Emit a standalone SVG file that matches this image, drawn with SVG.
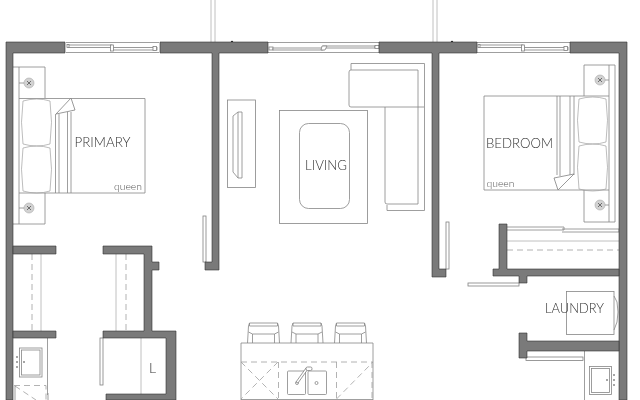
<svg xmlns="http://www.w3.org/2000/svg" width="640" height="400" viewBox="0 0 640 400">
<style>
.w{fill:#7a7a7a;stroke:#333;stroke-width:.6}
.l{fill:none;stroke:#868686;stroke-width:.8}
.p{fill:none;stroke:#a0a0a0;stroke-width:.7}
.f{fill:#fff;stroke:#808080;stroke-width:.8}
.g{fill:none;stroke:#c0c0c0;stroke-width:1}
.d{fill:none;stroke:#a0a0a0;stroke-width:.8;stroke-dasharray:6 4}
.t{font-family:"Lato","Liberation Sans",sans-serif;font-weight:300;fill:#333}
.q{fill:#555}
</style>
<defs>
<filter id="soft" x="0" y="0" width="100%" height="100%" filterUnits="userSpaceOnUse" primitiveUnits="userSpaceOnUse"><feGaussianBlur stdDeviation=".3"/></filter>
<g id="lamp"><circle r="5" fill="#d2d2d2" stroke="#aaa" stroke-width=".6"/><path d="M-2-2 2 2M-2 2 2-2" stroke="#444" stroke-width=".7"/></g>
<g id="win"><path class="l" d="M0 .5H93M0 10.500H93"/><rect class="f" x="2" y="3" width="44" height="2.500"/><rect class="f" x="46" y="5.500" width="45" height="2.500"/><rect class="f" x="44.500" y="3" width="3" height="6"/><rect class="f" x="87" y="4.500" width="3.500" height="4"/><rect class="f" x="1" y="2.500" width="2" height="3"/></g>
<g id="stool"><path class="l" d="M0 21 1 4 2 1H30L31 4 32 21M2 1V4H30V1M1 10 5 12V21M31 10 27 12V21M5 12H27"/></g>
<path id="pillow" class="p" d="M1 2Q15-2 28 2Q31 23 28 45Q15 49 1 45Q-2 23 1 2Z"/>
</defs>
<rect width="640" height="400" fill="#fff"/>
<g filter="url(#soft)">
<rect width="640" height="400" fill="#fff"/>

<g id="outside"><path class="g" d="M211 0V42M215 0V42M433 0V42M437 0V42"/><circle cx="232" cy="42" r="1.200" fill="#222"/><circle cx="452" cy="42" r="1.200" fill="#222"/></g>

<g id="windows">
<use href="#win" x="66" y="42"/>
<g id="win-living"><path class="l" d="M268 42.500H379M268 52.500H379"/><rect class="f" x="269" y="47" width="4" height="3"/><rect class="f" x="273" y="48" width="50" height="2"/><rect class="f" x="323" y="46" width="52" height="2"/><rect class="f" x="375" y="45.500" width="4" height="3"/><path class="f" d="M321 50 322 46 327 46 325 50Z"/></g>
<use href="#win" x="477" y="42"/>
</g>

<g id="primary-bedroom">
<path class="l" d="M13 67H45V98M19 67V224M13 224H45V193"/>
<use href="#lamp" x="29" y="83"/><use href="#lamp" x="29" y="208"/>
<path class="l" d="M19 98.500H145V193H19M19 83H24M19 208H24"/>
<use href="#pillow" transform="translate(22 99)"/><use href="#pillow" transform="translate(22 146)"/>
<path class="l" d="M55.500 114V193M59 114V193M67.500 112V193M71 112V193"/>
<path class="f" d="M56 114 71 98 75 110Z"/>
<text class="t" x="74.500" y="147" font-size="13" textLength="56" lengthAdjust="spacingAndGlyphs">PRIMARY</text>
<text class="t q" x="114" y="190" font-size="9" textLength="28" lengthAdjust="spacingAndGlyphs">queen</text>
<rect class="f" x="203" y="216" width="3" height="46"/>
</g>

<g id="living">
<rect class="l" x="227.500" y="100" width="28" height="87.500"/>
<path class="l" d="M233 116 238 112H242V178H238L233 172ZM238 112V178"/>
<rect class="l" x="279.500" y="110.500" width="88" height="113"/>
<rect class="l" x="299.500" y="123.500" width="50" height="85" rx="9"/>
<text class="t" x="305" y="170" font-size="14" textLength="42" lengthAdjust="spacingAndGlyphs">LIVING</text>
<path class="l" d="M351 70V63.500H424.500V107M424.500 210.500H387V205M424.500 107V210.500"/>
<path class="l" d="M351 70H418V107H351Q349 107 349 105V72Q349 70 351 70ZM385 107V202Q385 204 387 204H418V107H424"/>
</g>

<g id="bedroom">
<path class="l" d="M615 65H584V96M615 65V222H584V190M609 65V222"/>
<use href="#lamp" x="600" y="80"/><use href="#lamp" x="600" y="205"/>
<path class="l" d="M609 96H484V190H609M605 80H609M605 205H609"/>
<use href="#pillow" transform="translate(578 97)"/><use href="#pillow" transform="translate(578 144)"/>
<path class="l" d="M557 96V175M560 96V176M570 96V175M574 96V175"/>
<path class="f" d="M574 174 558 190 554 178Z"/>
<text class="t" x="486" y="148" font-size="13.500" textLength="67" lengthAdjust="spacingAndGlyphs">BEDROOM</text>
<text class="t q" x="486.500" y="187" font-size="9" textLength="28" lengthAdjust="spacingAndGlyphs">queen</text>
<rect class="f" x="446" y="222" width="3" height="47"/>
</g>

<g id="closets">
<path class="d" d="M32 254V331M126 254V331M507 250H619"/>
<path class="g" d="M41 254V331M116 254V331M507 241H619M141 338V394"/>
<rect class="f" x="100" y="338" width="3" height="47"/>
<path class="l" d="M507 227H564V230H507M562 229H619V232H562"/>
<text class="t" x="149" y="373" font-size="14">L</text>
</g>

<g id="laundry">
<rect class="l" x="566.500" y="291.500" width="47.500" height="43"/>
<path class="l" d="M614 296 617 302Q619 312 617 322L614 330"/>
<text class="t" x="545" y="313" font-size="13.500" textLength="59" lengthAdjust="spacingAndGlyphs">LAUNDRY</text>
<rect class="f" x="468" y="283" width="51" height="3"/>
<rect class="f" x="526" y="357" width="57" height="3.500"/>
<path class="l" d="M584.500 351V400"/>
<rect class="l" x="589.500" y="366.500" width="22" height="28"/>
<rect class="l" x="591.500" y="368.500" width="18" height="24"/>
<g fill="#888"><circle cx="614" cy="375" r="1"/><circle cx="614" cy="380" r="1"/><circle cx="614" cy="385" r="1"/><circle cx="607" cy="380" r="1"/></g>
</g>

<g id="bath">
<path class="l" d="M47.500 338V395"/>
<rect class="l" x="19.500" y="348" width="22.500" height="29"/>
<rect class="l" x="21.500" y="350" width="18.500" height="25"/>
<g fill="#888"><circle cx="17" cy="357" r="1"/><circle cx="17" cy="362" r="1"/><circle cx="17" cy="367" r="1"/><circle cx="24" cy="362" r="1"/></g>
<path class="d" d="M14 385.500H46V400M15 386 36 400"/>
<path class="l" d="M48 393V400M15 386V400"/>
</g>

<g id="kitchen">
<use href="#stool" x="247.500" y="322"/><use href="#stool" x="291" y="322"/><use href="#stool" x="334.500" y="322"/>
<path class="l" d="M241 400V343H373V400M241 399.500H373"/>
<path class="d" d="M241 362H373M278.500 362V400M336.500 362V400M241 362 278 399M278 362 241 399M336.500 399 373 362M372 362V400"/>
<rect class="l" x="287.500" y="371" width="18" height="23.500" rx="1"/>
<rect class="l" x="308" y="371" width="18.500" height="23.500" rx="1"/>
<circle class="l" cx="297" cy="383" r="1.500"/><circle class="l" cx="316.500" cy="383" r="1.500"/>
<path class="f" d="M296 382 306 368 308 369 298 383Z"/><rect class="f" x="306" y="367" width="6" height="3.500" rx="1.500"/>
</g>

<g id="walls">
<path class="w" d="M6 42H65V53H13V400H6Z"/>
<path class="w" d="M160 42H268V53H219V270H205V262H212V53H160Z"/>
<path class="w" d="M379 42H477V53H439V269H446V277H432V53H379Z"/>
<path class="w" d="M570 42H627V400H619V53H570Z"/>
<path class="w" d="M13 246H56V254H13ZM13 331H56V338H13Z"/>
<path class="w" d="M103 246H152V262H159V270H152V331H176V400H106V394H166V338H103V331H144V254H103Z"/>
<path class="w" d="M499 224H507V269H619V276H527V283H519V276H493V269H499Z"/>
<path class="w" d="M519 333H527V341H619V351H527V358H519Z"/>
</g>
</g>
</svg>
